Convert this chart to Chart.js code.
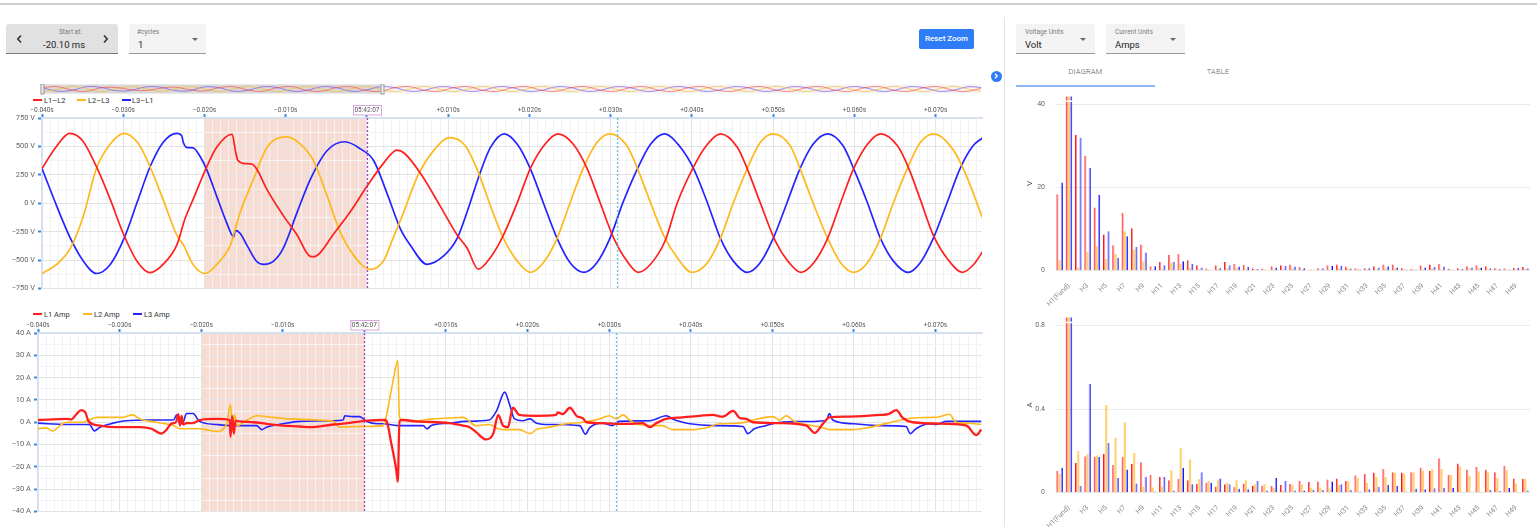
<!DOCTYPE html>
<html>
<head>
<meta charset="utf-8">
<title>Waveform viewer</title>
<script src="https://cdn.jsdelivr.net/npm/chart.js@4.4.1/dist/chart.umd.min.js"></script>
<style>
  html, body { margin: 0; padding: 0; }
  body { width: 1537px; height: 527px; position: relative; overflow: hidden; background: #fff; font-family: Roboto, Arial, sans-serif; color: #222; }
  .abs { position: absolute; white-space: nowrap; }
  canvas { position: absolute; }
  .field { position: absolute; top: 24px; height: 30px; box-sizing: border-box; border-radius: 3px 3px 0 0; background: #f3f3f3; border-bottom: 1px solid #9a9a9a; }
  .lbl { position: absolute; top: 28px; font-size: 6.5px; color: #7a7a7a; white-space: nowrap; }
  .val { position: absolute; top: 38.5px; font-size: 9.5px; color: #1f1f1f; white-space: nowrap; }
  .caret { position: absolute; top: 37.5px; width: 0; height: 0; border-left: 3px solid transparent; border-right: 3px solid transparent; border-top: 3px solid #666; }
  .lg { position: absolute; font-size: 7.5px; line-height: 9px; color: #333; white-space: nowrap; }
  .lgline { position: absolute; width: 9px; height: 2px; }
  .tab { position: absolute; top: 67px; text-align: center; font-size: 7.5px; font-weight: 300; color: #666; letter-spacing: 0.2px; }
</style>
</head>
<body>

<div class="abs" style="left:0;top:3px;width:1537px;height:2px;background:#cdcdcd"></div>

<!-- left controls -->
<div class="field" style="left:6px;width:112px;background:#e1e1e1;border-bottom:1px solid #7a7a7a"></div>
<div class="lbl" style="left:59px">Start at:</div>
<div class="val" style="left:43px">-20.10 ms</div>
<svg class="abs" style="left:16px;top:34px" width="7" height="10"><polyline points="5,1.5 1.8,5 5,8.5" fill="none" stroke="#333" stroke-width="1.6"/></svg>
<svg class="abs" style="left:102px;top:34px" width="7" height="10"><polyline points="2,1.5 5.2,5 2,8.5" fill="none" stroke="#333" stroke-width="1.6"/></svg>

<div class="field" style="left:129px;width:77px"></div>
<div class="lbl" style="left:137px">#cycles</div>
<div class="val" style="left:138px">1</div>
<div class="caret" style="left:192px"></div>

<div class="abs" style="left:919px;top:29px;width:55px;height:20px;background:#2f7df6;border-radius:2px;color:#fff;font-size:8px;font-weight:500;line-height:20px;text-align:center">Reset Zoom</div>

<div class="abs" style="left:990.5px;top:70.5px;width:11px;height:11px;border-radius:50%;background:#2f7df6"></div>
<svg class="abs" style="left:993px;top:73px" width="6" height="6"><polyline points="2,0.8 4.2,3 2,5.2" fill="none" stroke="#fff" stroke-width="1.4"/></svg>

<!-- right panel -->
<div class="abs" style="left:1004px;top:17px;width:1px;height:510px;background:#e4e4e4"></div>
<div class="field" style="left:1016px;width:79px"></div>
<div class="lbl" style="left:1025px">Voltage Units</div>
<div class="val" style="left:1025px">Volt</div>
<div class="caret" style="left:1080px"></div>
<div class="field" style="left:1106px;width:79px"></div>
<div class="lbl" style="left:1115px">Current Units</div>
<div class="val" style="left:1115px">Amps</div>
<div class="caret" style="left:1170px"></div>

<div class="tab" style="left:1016px;width:139px;color:#555">DIAGRAM</div>
<div class="tab" style="left:1155px;width:126px">TABLE</div>
<div class="abs" style="left:1016px;top:85px;width:139px;height:2px;background:#8fb6f6"></div>

<!-- legends -->
<div class="lgline" style="left:33px;top:99px;background:#ff1f1f"></div><div class="lg" style="left:44px;top:95.5px">L1–L2</div>
<div class="lgline" style="left:77px;top:99px;background:#ffb81c"></div><div class="lg" style="left:88px;top:95.5px">L2–L3</div>
<div class="lgline" style="left:121.5px;top:99px;background:#2424ff"></div><div class="lg" style="left:132px;top:95.5px">L3–L1</div>

<div class="lgline" style="left:33px;top:313px;background:#ff1f1f"></div><div class="lg" style="left:44px;top:309.5px">L1 Amp</div>
<div class="lgline" style="left:83px;top:313px;background:#ffb81c"></div><div class="lg" style="left:94px;top:309.5px">L2 Amp</div>
<div class="lgline" style="left:133px;top:313px;background:#2424ff"></div><div class="lg" style="left:144px;top:309.5px">L3 Amp</div>

<canvas id="overview" width="990" height="11" style="left:0;top:84px"></canvas>
<canvas id="voltChart" width="990" height="196" style="left:0;top:100px"></canvas>
<canvas id="ampChart" width="990" height="204" style="left:0;top:315px"></canvas>
<canvas id="voltHarm" width="510" height="224" style="left:1025px;top:82px"></canvas>
<canvas id="ampHarm" width="510" height="224" style="left:1025px;top:303px"></canvas>

<script>
// ---------- waveform data: [time in ms from trigger, value] ----------
const voltL12 = [[-40,306],[-38.3,492],[-36.6,615],[-35,550],[-33.2,306],[-31.6,34],[-30,-266],[-28.3,-510],[-26.7,-610],[-25.1,-538],[-23.4,-366],[-22.4,-137],[-21.4,34],[-19.9,292],[-18.5,492],[-16.6,607],[-16.2,464],[-15.9,378],[-15,349],[-14.1,343],[-13.5,292],[-12.3,120],[-10.3,-109],[-8.6,-280],[-7,-467],[-6.6,-470],[-5.8,-438],[-4.2,-280],[-2.1,-80],[0,149],[2,349],[3.7,468],[4.6,440],[6.6,262],[9,-23],[11.1,-280],[12.3,-392],[13.7,-580],[15.2,-477],[16.8,-280],[18.5,5],[20.1,305],[21.9,519],[23.5,611],[25.4,519],[27.1,305],[28.7,5],[30.3,-295],[32,-509],[33.4,-608],[34.9,-537],[36.7,-330],[38.2,5],[40.2,320],[41.9,519],[43.5,611],[45.6,491],[46.8,305],[48.4,5],[50.3,-338],[51.8,-509],[53.4,-608],[55,-523],[56.7,-309],[58.3,5],[59.9,305],[61.6,519],[63.2,611],[65.3,505],[66.7,305],[68.1,34],[69.7,-280],[71.5,-494],[73.3,-608],[74.7,-537],[75.8,-423]];
const voltL23 = [[-40,-618],[-38.2,-538],[-36.5,-395],[-34.9,-109],[-33.3,306],[-31.6,521],[-29.9,615],[-28.1,521],[-26.7,321],[-25.1,34],[-23.4,-281],[-22.6,-366],[-21.4,-538],[-19.9,-618],[-18.5,-538],[-16.8,-366],[-16.2,-223],[-15.6,-80],[-14,206],[-12.3,492],[-9.9,584],[-8.2,521],[-6.6,378],[-4.9,63],[-3.3,-252],[-1.7,-452],[0.4,-581],[2,-510],[3.2,-309],[4.5,-81],[6.2,234],[8.2,463],[10.2,577],[12.1,506],[13.6,291],[15.2,-23],[16.8,-309],[18.5,-509],[20.1,-608],[21.7,-523],[23.4,-309],[25,5],[26.6,305],[28.3,534],[29.9,611],[32,505],[33.3,305],[34.9,5],[36.5,-280],[38.2,-480],[40,-608],[41.9,-523],[43.5,-309],[45.1,5],[46.8,305],[48.4,534],[50,611],[52.1,505],[53.3,305],[54.9,5],[56.7,-309],[58.3,-523],[59.9,-608],[61.6,-523],[63.2,-309],[64.8,5],[66.5,305],[68.1,534],[69.8,611],[71.8,505],[73.4,305],[75.8,-135]];
const voltL31 = [[-40,306],[-38.2,-23],[-36.5,-309],[-34.9,-510],[-33.3,-618],[-31.6,-538],[-29.9,-309],[-28.3,6],[-26.7,321],[-25.1,535],[-23.4,615],[-22.8,593],[-22.6,535],[-22.2,492],[-21.4,487],[-20.5,407],[-19.7,292],[-18.5,63],[-17.3,-166],[-16.4,-295],[-16.2,-238],[-15.6,-266],[-14.8,-366],[-13.6,-510],[-12.7,-538],[-11.5,-510],[-10.3,-395],[-8.6,-80],[-7,206],[-4.9,464],[-2.7,541],[-0.8,478],[0.8,378],[2.4,100],[4.1,-223],[5.3,-366],[7.4,-537],[9.4,-466],[11.1,-309],[12.3,-81],[13.9,262],[15.2,491],[16.9,611],[18.5,519],[20.1,305],[21.7,5],[23.4,-309],[25,-523],[26.7,-608],[28.3,-523],[29.9,-309],[31.5,5],[33.3,305],[34.9,519],[36.6,611],[38.6,491],[40.2,305],[41.9,5],[43.5,-309],[45.1,-509],[46.8,-608],[48.4,-523],[50,-309],[51.7,5],[53.3,305],[54.9,519],[56.7,611],[58.6,505],[59.9,305],[61.6,5],[63.2,-309],[64.8,-509],[66.6,-608],[68.1,-523],[69.7,-309],[71.4,5],[73,305],[74.6,505],[75.8,577]];

const ampL1 = [[-40,1],[-36.5,1.5],[-35.9,1.3],[-35.3,3.6],[-34.7,5.4],[-34.2,4.4],[-33.8,0.4],[-32.4,-1.5],[-30.4,-2.2],[-27.5,-2.2],[-26.1,-2.9],[-24.9,-5.1],[-24.3,-3.6],[-23.7,-0.7],[-23.1,0],[-22.8,3.6],[-22.6,-1.5],[-22.4,2.9],[-22.2,-1],[-21.8,-0.4],[-21,-0.4],[-20.2,1],[-18.1,1.5],[-16.5,1],[-16.4,-6.5],[-16.2,2.9],[-16,-5.1],[-15.8,0.7],[-15.3,0.4],[-13.6,0],[-12,-0.7],[-10,-1.5],[-7.9,-1.9],[-6.7,-2.2],[-3.8,-1],[-1.8,-0.3],[0.3,0.7],[2.5,1],[2.7,0.7],[3.3,-9.5],[3.9,-21.1],[4.1,-26.6],[4.3,0.7],[4.7,1],[6.3,0.4],[10.4,-0.4],[12.1,-1.5],[12.9,-2.2],[13.7,-4.4],[14.9,-7.7],[15.8,-5.1],[16.4,3.3],[17,-1.5],[17.6,-2.2],[18.2,6.5],[19,3.3],[21.1,2.9],[23.5,3.3],[23.7,4.4],[24.3,3.6],[25.2,6.5],[26,2.9],[26.8,1.7],[27.2,0],[28.8,-0.4],[30.9,-0.7],[32.9,-0.7],[34.1,-0.4],[35,-2.2],[35.8,-0.4],[37,1.5],[39,2.2],[41.1,2.9],[42.7,3.3],[43.9,2.5],[45.2,5.1],[46,1.9],[46.8,1.5],[47.6,0],[50.9,-0.4],[54.2,-1.5],[55.2,-4.8],[56.2,-0.7],[57,2.2],[59.1,2.5],[63.2,3.3],[64.2,3.6],[65.2,5.4],[66,1.9],[67.2,0],[71.3,-0.7],[73.8,-1.5],[75,-5.8],[75.6,-3.3]];
const ampL2 = [[-40,-2.9],[-39,-2.5],[-38.2,-3.9],[-37.3,-1.5],[-36.5,0],[-34.5,0],[-32.8,2.2],[-31.2,2.2],[-29.6,2.2],[-28.4,3.3],[-27.5,1.5],[-25.5,0],[-23.4,-1.5],[-22.6,-2.9],[-20.2,-2.9],[-19,-3.6],[-18.1,-4.1],[-16.9,-0.7],[-16.4,8],[-16.2,-1.5],[-15.9,3.3],[-15.6,-1.5],[-14.5,0.7],[-13.2,2.9],[-11.2,2.2],[-9.1,1.5],[-5.9,1],[-3.8,0.4],[-3,-2.2],[-0.6,-1.9],[2.3,-1.5],[2.7,2.9],[3.5,18.2],[4.1,27.6],[4.3,2.2],[4.7,1],[6.3,0.7],[8.4,1.5],[10.4,1.9],[12.1,2.2],[12.5,1.5],[13.7,-1.5],[15.3,-1],[16.4,-2.9],[17.4,-3.3],[19,-3.3],[20.3,-5.1],[21.1,-3.3],[22.7,-2.2],[24.8,-0.7],[26.8,0],[28.8,1.5],[30,2.9],[30.9,1.5],[31.7,3.3],[32.5,1],[33.3,-0.7],[35,-1.5],[36.5,-1.5],[37.8,-3.3],[40.3,-3.3],[41.9,-2.5],[43.5,-0.7],[46,-0.4],[47.6,1],[50.1,2.5],[50.9,1],[51.7,2.9],[52.7,0.4],[53.7,-0.7],[56,-2.2],[57,-3.3],[59.9,-3.3],[62,-2.2],[64.1,-0.4],[67.2,1.9],[69.7,2.2],[70.5,2.5],[71.7,3.6],[72.5,0],[73.8,-0.4],[75.6,-1]];
const ampL3 = [[-40,-0.4],[-36.5,-1],[-33.7,-1],[-33.1,-3.9],[-32.4,-2.2],[-30.8,-0.4],[-29.2,0.7],[-26.3,1],[-23.4,1],[-23,3.3],[-22.6,-0.7],[-22.2,0],[-21.8,3.9],[-21,3.9],[-20.2,0.4],[-18.1,-1],[-16.1,-1.5],[-13.2,-1.5],[-12.6,-3.3],[-12,-2.2],[-10,-0.7],[-7.9,0.4],[-3.8,0.7],[-2.6,1],[-2.4,2.9],[-1.4,2.5],[-0.6,2.5],[0.3,0.3],[1.5,-0.7],[2.3,-0.7],[4.3,-1.5],[6.3,-1.5],[7.2,-1.5],[7.7,-2.9],[8.2,-1.5],[10.4,-0.4],[12.4,0.4],[15.3,1],[16.2,5.1],[17.2,13.5],[17.8,8],[18.4,1.5],[19.4,0.7],[20.3,1.5],[21.1,-0.4],[22.7,-1],[26.4,-1.5],[27.1,-5.4],[27.6,-2.5],[29.2,-0.4],[30.4,-1.5],[31.2,0.4],[35,0.7],[37,2.9],[37.8,1.5],[38.6,0.4],[39.9,-0.7],[42.7,-1.5],[46.4,-1.9],[47,-5.1],[47.8,-2.9],[49.3,-1.5],[50.3,-0.4],[52.7,0.3],[56.6,0.7],[57,3.9],[57.4,1],[59.9,-0.7],[63.2,-1.5],[66.4,-1.9],[66.9,-5.1],[67.6,-2.9],[69.3,-0.7],[70.1,-1],[71.3,0.4],[75.6,0.4]];

// overview strip (whole record, coarse samples every 5 ms)
const ovTime = [-40,-35,-30,-25,-20,-15,-10,-5,0,5,10,15,20,25,30,35,40,45,50,55,60,65,70,75,80,85,90,95,100,105,110,115,120,125,130,135,140,145,150,155,160,165,170,175,180,185,190,195,200,205,210,215,220,225,230,235,240,245,250,255,260,265,270,275,280];
const ovL12 = [306,550,-266,-530,280,349,-140,-370,149,430,-150,-470,290,540,-240,-530,300,540,-310,-520,310,520,-300,-560,300,540,-300,-530,300,540,-300,-530,300,540,-300,-530,300,540,-300,-530,300,540,-300,-530,300,540,-300,-530,300,540,-300,-530,300,540,-300,-530,300,540,-300,-530,300,540,-300,-530,300];
const ovL23 = [-618,-120,615,40,-618,30,584,60,-570,10,577,0,-608,5,611,0,-608,5,611,0,-608,0,600,-100,-608,0,611,0,-608,0,611,0,-608,0,611,0,-608,0,611,0,-608,0,611,0,-608,0,611,0,-608,0,611,0,-608,0,611,0,-608,0,611,0,-608,0,611,0,-608];
const ovL31 = [306,-500,-309,535,350,-380,-340,464,430,-330,-410,480,305,-523,-300,519,320,-509,-309,519,305,-520,-250,530,305,-520,-300,520,305,-520,-300,520,305,-520,-300,520,305,-520,-300,520,305,-520,-300,520,305,-520,-300,520,305,-520,-300,520,305,-520,-300,520,305,-520,-300,520,305,-520,-300,520,305];

// harmonics (H0 .. H50)
const harmonics = ['H0','H1(Fund)','H2','H3','H4','H5','H6','H7','H8','H9','H10','H11','H12','H13','H14','H15','H16','H17','H18','H19','H20','H21','H22','H23','H24','H25','H26','H27','H28','H29','H30','H31','H32','H33','H34','H35','H36','H37','H38','H39','H40','H41','H42','H43','H44','H45','H46','H47','H48','H49','H50'];
const vHarmL12 = [18.4,42,32.7,27.7,15.2,8.7,6.1,13.9,10.2,6.3,1.1,2.1,3.8,4.0,2.5,1.3,0.5,1.3,2.1,1.7,1.4,0.5,0.5,1.1,1.3,1.5,0.9,0.2,0.6,1.3,1.5,1.0,0.6,0.6,1.1,1.5,1.5,0.6,0.4,1.3,1.5,1.7,0.5,0.6,1.1,1.3,1.1,0.6,0.6,0.7,0.9];
const vHarmL23 = [2.5,42,0.8,4.5,5.9,2.8,4.0,9.5,5.1,2.3,0.3,0.4,1.9,1.6,0.7,0.3,0.2,0.4,0.6,0.6,0.3,0.2,0.2,0.2,0.3,0.5,0.3,0.3,0.2,0.3,0.5,0.5,0.4,0.2,0.3,0.5,0.5,0.3,0.3,0.3,0.5,0.3,0.3,0.3,0.5,0.6,0.3,0.3,0.2,0.3,0.4];
const vHarmL31 = [21.2,42,32.0,24.8,18.3,9.5,3.1,8.3,5.7,4.4,1.1,1.3,2.1,2.3,1.7,0.8,0.2,0.6,1.3,1.0,0.9,0.4,0.2,0.8,1.2,1.0,0.6,0.1,0.6,1.2,1.2,0.5,0.3,0.6,0.8,1.1,0.8,0.3,0.3,0.8,0.9,1.0,0.2,0.4,0.8,0.8,0.6,0.4,0.3,0.7,0.6];
const iHarmL1 = [0.105,0.84,0.143,0.175,0.171,0.187,0.132,0.171,0.137,0.146,0.086,0.075,0.059,0.065,0.059,0.043,0.049,0.029,0.04,0.027,0.044,0.033,0.035,0.032,0.037,0.043,0.056,0.051,0.054,0.063,0.068,0.056,0.084,0.09,0.097,0.114,0.098,0.097,0.098,0.12,0.105,0.165,0.086,0.14,0.111,0.124,0.11,0.098,0.129,0.068,0.067];
const iHarmL2 = [0.09,0.84,0.2,0.184,0.178,0.42,0.263,0.336,0.19,0.03,0.025,0.03,0.108,0.213,0.159,0.065,0.056,0.059,0.048,0.059,0.059,0.04,0.04,0.022,0.008,0.037,0.04,0.024,0.025,0.02,0.037,0.054,0.071,0.048,0.075,0.075,0.095,0.09,0.098,0.105,0.113,0.114,0.086,0.125,0.081,0.102,0.098,0.07,0.108,0.044,0.067];
const iHarmL3 = [0.12,0.84,0.032,0.52,0.171,0.238,0.07,0.111,0.044,0.076,0.006,0.075,0.011,0.12,0.041,0.098,0.048,0.068,0.041,0.019,0.017,0.056,0.011,0.071,0.056,0.01,0.01,0.013,0.013,0.054,0.041,0.013,0.006,0.016,0.029,0.038,0.032,0.006,0.019,0.017,0.021,0.022,0.024,0.005,0.005,0.005,0.014,0.008,0.022,0,0.01];

const RED = '#ff1f1f', ORANGE = '#ffb81c', BLUE = '#2424ff';
const viewFrom = -40, viewTo = 75.7;   // visible window, ms
const shadeFrom = -20, shadeTo = 0, cursorAt = 30.8;

Chart.defaults.font.family = "Roboto, Arial, sans-serif";
Chart.defaults.animation = false;

const isMajor = (ctx, step) => ctx.tick && Math.abs(ctx.tick.value % step) < 1e-9;
const fmtTime = (v) => (v % 10 !== 0 || v === 0) ? '' : (v < 0 ? '−' : '+') + (Math.abs(v) / 1000).toFixed(3) + 's';

// shading of the selected cycle, trigger / cursor lines and time stamp
const markerPlugin = {
  id: 'markers',
  beforeDraw(chart) {
    const { ctx, chartArea: a, scales: { x } } = chart;
    const x0 = x.getPixelForValue(shadeFrom), x1 = x.getPixelForValue(shadeTo);
    ctx.save();
    ctx.fillStyle = 'rgba(230,150,120,0.33)';
    ctx.fillRect(x0, a.top, x1 - x0, a.bottom - a.top);
    ctx.restore();
  },
  afterDatasetsDraw(chart) {
    const { ctx, chartArea: a, scales: { x } } = chart;
    ctx.save();
    ctx.lineWidth = 1.3;
    ctx.setLineDash([2, 2]);
    [[shadeTo, '#b03cc8'], [cursorAt, '#5cc8d8']].forEach(([t, c]) => {
      const px = Math.round(x.getPixelForValue(t)) + 0.5;
      ctx.strokeStyle = c;
      ctx.beginPath(); ctx.moveTo(px, a.top); ctx.lineTo(px, a.bottom); ctx.stroke();
    });
    ctx.restore();
  },
  afterDraw(chart) {
    const { ctx, chartArea: a, scales: { x } } = chart;
    const cx = x.getPixelForValue(0);
    ctx.save();
    ctx.fillStyle = '#fff';
    ctx.fillRect(cx - 14, a.top - 12.5, 28, 9.5);
    ctx.strokeStyle = '#d9a3dc';
    ctx.lineWidth = 1;
    ctx.strokeRect(cx - 14 + 0.5, a.top - 12.5, 28, 9.5);
    ctx.fillStyle = '#555';
    ctx.font = '6.5px Roboto, Arial, sans-serif';
    ctx.textAlign = 'center'; ctx.textBaseline = 'middle';
    ctx.fillText('05:42:07', cx, a.top - 7.5);
    ctx.restore();
  }
};

function waveChart(id, series, yMin, yMax, yStep, yMajor, unit, leftWidth) {
  return new Chart(document.getElementById(id), {
    type: 'line',
    data: {
      datasets: series.map(s => ({
        label: s.name, data: s.data, borderColor: s.color, borderWidth: s.width,
        pointRadius: 0, fill: false, cubicInterpolationMode: 'monotone'
      }))
    },
    options: {
      responsive: false, events: [],
      layout: { padding: { left: 0, right: 8, top: 0, bottom: 2 } },
      plugins: { legend: { display: false }, tooltip: { enabled: false } },
      scales: {
        x: {
          type: 'linear', position: 'top', min: viewFrom, max: viewTo,
          afterFit: (s) => { s.height = 18; },
          border: { color: '#d5e1ee', width: 2 },
          grid: {
            color: (c) => isMajor(c, 10) ? '#e3e3e3' : '#f2f2f2',
            tickColor: (c) => isMajor(c, 10) ? '#3b8ae0' : 'rgba(0,0,0,0)',
            tickLength: 4, tickWidth: 2
          },
          ticks: { stepSize: 1, autoSkip: false, includeBounds: false, maxRotation: 0, padding: 0,
                   font: { size: 6.5 }, color: '#555', callback: fmtTime }
        },
        y: {
          min: yMin, max: yMax,
          afterFit: (s) => { s.width = leftWidth; },
          border: { color: '#d5e1ee', width: 2 },
          grid: {
            color: (c) => isMajor(c, yMajor) ? '#e3e3e3' : '#f3f3f3',
            tickColor: (c) => isMajor(c, yMajor) ? '#3b8ae0' : 'rgba(0,0,0,0)',
            tickLength: 4, tickWidth: 2
          },
          ticks: { stepSize: yStep, autoSkip: false, padding: 3, font: { size: 7.5 }, color: '#666',
                   callback: (v) => v % yMajor !== 0 ? '' : (v < 0 ? '−' + (-v) : v) + ' ' + unit }
        }
      }
    },
    plugins: [markerPlugin]
  });
}

waveChart('voltChart', [
  { name: 'L1–L2', data: voltL12, color: RED, width: 1.7 },
  { name: 'L2–L3', data: voltL23, color: ORANGE, width: 1.7 },
  { name: 'L3–L1', data: voltL31, color: BLUE, width: 1.7 }
], -750, 750, 125, 250, 'V', 42);

waveChart('ampChart', [
  { name: 'L1 Amp', data: ampL1, color: RED, width: 2.3 },
  { name: 'L2 Amp', data: ampL2, color: ORANGE, width: 1.6 },
  { name: 'L3 Amp', data: ampL3, color: BLUE, width: 1.6 }
], -40, 40, 5, 10, 'A', 38);

// overview navigator
const navPlugin = {
  id: 'nav',
  beforeDatasetsDraw(chart) {
    const { ctx, chartArea: a, scales: { x } } = chart;
    const s0 = x.getPixelForValue(viewFrom), s1 = x.getPixelForValue(viewTo);
    ctx.save();
    ctx.fillStyle = '#f4f4f4';
    ctx.fillRect(a.left, a.top - 1.5, a.right - a.left, a.bottom - a.top + 3);
    ctx.fillStyle = '#d9d9d9';
    ctx.fillRect(s0, a.top - 1.5, s1 - s0, a.bottom - a.top + 3);
    ctx.restore();
  },
  afterDraw(chart) {
    const { ctx, chartArea: a, scales: { x } } = chart;
    ctx.save();
    ctx.fillStyle = '#eeeeee'; ctx.strokeStyle = '#9a9a9a'; ctx.lineWidth = 1;
    [viewFrom, viewTo].forEach(t => {
      const px = Math.round(x.getPixelForValue(t));
      ctx.fillRect(px - 1.5, a.top - 2.5, 3, a.bottom - a.top + 5);
      ctx.strokeRect(px - 1.5 + 0.5, a.top - 2.5 + 0.5, 3, a.bottom - a.top + 4);
    });
    ctx.restore();
  }
};

new Chart(document.getElementById('overview'), {
  type: 'line',
  data: {
    labels: ovTime,
    datasets: [
      { data: ovL12, borderColor: 'rgba(255,60,40,0.6)' },
      { data: ovL23, borderColor: 'rgba(255,180,30,0.6)' },
      { data: ovL31, borderColor: 'rgba(110,60,230,0.6)' }
    ].map(d => Object.assign(d, { borderWidth: 1, pointRadius: 0, tension: 0.4 }))
  },
  options: {
    responsive: false, events: [],
    layout: { padding: { left: 41, right: 9, top: 2, bottom: 3 } },
    plugins: { legend: { display: false }, tooltip: { enabled: false } },
    scales: {
      x: { type: 'linear', display: false, min: -40.5, max: 279.5 },
      y: { display: false, min: -700, max: 700 }
    }
  },
  plugins: [navPlugin]
});

// harmonic bar charts
const breakPlugin = {
  id: 'breakMark',
  afterDatasetsDraw(chart, args, opts) {
    const { ctx, scales: { y } } = chart;
    const py = y.getPixelForValue(opts.value);
    ctx.save();
    ctx.strokeStyle = '#ffffff'; ctx.lineWidth = 1.5;
    chart.data.datasets.forEach((d, i) => {
      const bar = chart.getDatasetMeta(i).data[1];
      ctx.beginPath();
      ctx.moveTo(bar.x - bar.width / 2 - 0.5, py);
      ctx.lineTo(bar.x + bar.width / 2 + 0.5, py);
      ctx.stroke();
    });
    ctx.restore();
  }
};

function harmChart(id, unit, yMax, yStep, brk, axisHeight, sets) {
  return new Chart(document.getElementById(id), {
    type: 'bar',
    data: {
      labels: harmonics,
      datasets: [
        { data: sets[0], backgroundColor: 'rgba(255,70,70,0.62)', borderColor: '#ff1010', borderWidth: { left: 1 } },
        { data: sets[1], backgroundColor: 'rgba(255,196,70,0.75)', borderWidth: 0 },
        { data: sets[2], backgroundColor: 'rgba(80,80,255,0.6)', borderColor: '#1515ff', borderWidth: { right: 1 } }
      ].map(d => Object.assign(d, { categoryPercentage: 0.7, barPercentage: 1, borderSkipped: false }))
    },
    options: {
      responsive: false, events: [],
      layout: { padding: { left: 0, right: 5, top: 4, bottom: 0 } },
      plugins: { legend: { display: false }, tooltip: { enabled: false }, breakMark: { value: brk } },
      scales: {
        x: {
          afterFit: (s) => { s.height = axisHeight; },
          grid: { display: false }, border: { display: false },
          ticks: { autoSkip: false, minRotation: 45, maxRotation: 45, padding: 3,
                   font: { size: 7 }, color: '#888',
                   callback: (v, i) => i % 2 === 1 ? harmonics[i] : '' }
        },
        y: {
          min: 0, max: yMax,
          afterFit: (s) => { s.width = 30; },
          border: { display: false },
          grid: { color: '#ebebeb', drawTicks: false },
          title: { display: true, text: unit, font: { size: 8 }, color: '#555', padding: 0 },
          ticks: { stepSize: yStep, includeBounds: false, padding: 10, font: { size: 7 }, color: '#666' }
        }
      }
    },
    plugins: [breakPlugin]
  });
}

harmChart('voltHarm', 'V', 42, 20, 40.8, 35.3, [vHarmL12, vHarmL23, vHarmL31]);
harmChart('ampHarm', 'A', 0.84, 0.4, 0.815, 34.3, [iHarmL1, iHarmL2, iHarmL3]);
</script>
</body>
</html>
